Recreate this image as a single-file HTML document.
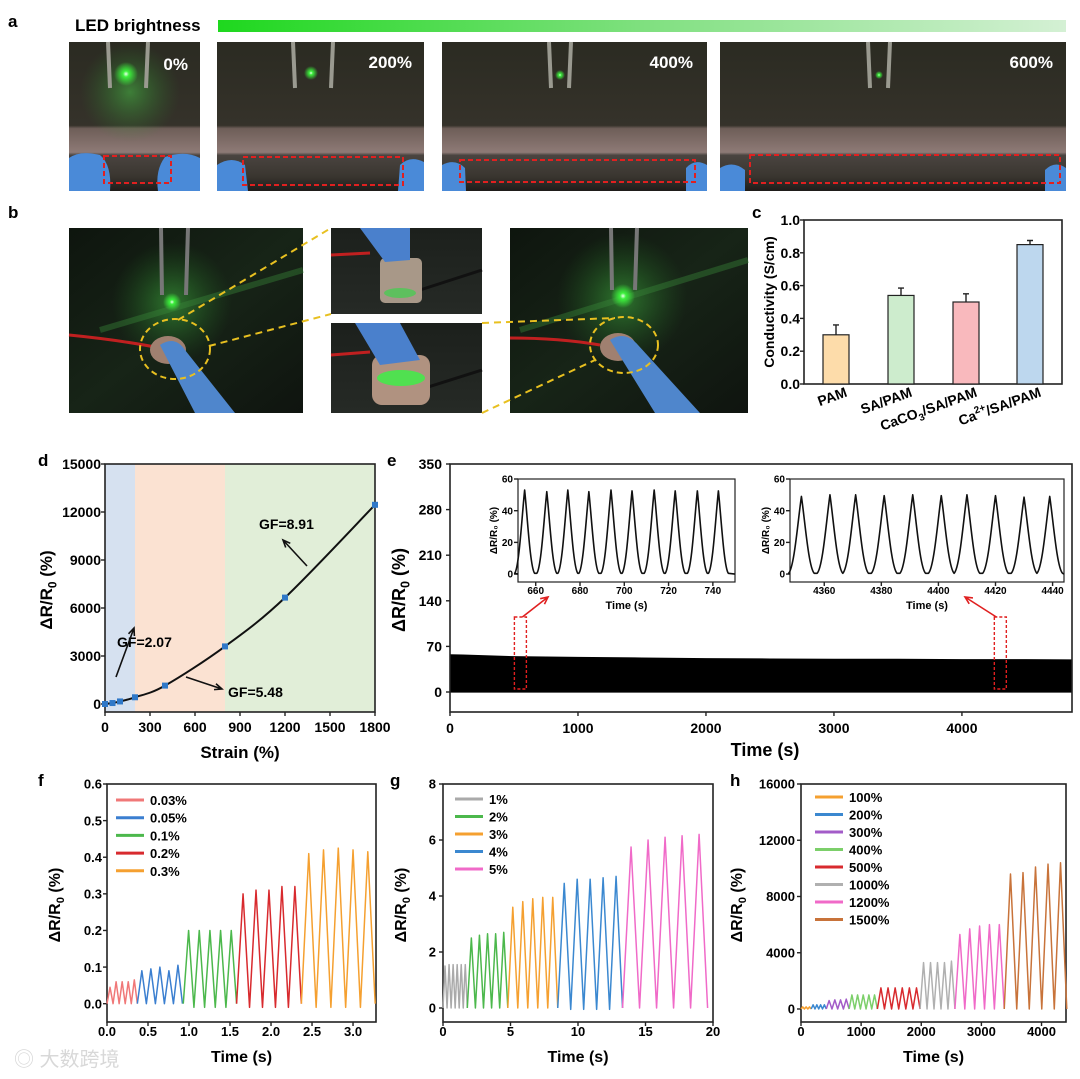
<!DOCTYPE html>
<html><head><meta charset="utf-8"><style>
html,body{margin:0;padding:0;background:#fff;}
svg{display:block;font-family:"Liberation Sans","Noto Sans CJK SC",sans-serif;}
</style></head><body>
<svg id="fig" width="1080" height="1079" viewBox="0 0 1080 1079" xmlns="http://www.w3.org/2000/svg">
<defs>
<linearGradient id="ledbar" x1="0" x2="1" y1="0" y2="0"><stop offset="0" stop-color="#1ed81e"/><stop offset="0.5" stop-color="#7fe07f"/><stop offset="1" stop-color="#d4f0d4"/></linearGradient>
<linearGradient id="darkA" x1="0" x2="0" y1="0" y2="1"><stop offset="0" stop-color="#2b2b22"/><stop offset="0.56" stop-color="#35322a"/><stop offset="0.58" stop-color="#6e5e58"/><stop offset="0.74" stop-color="#8e7a76"/><stop offset="0.76" stop-color="#4a4440"/><stop offset="0.9" stop-color="#3a3630"/><stop offset="1" stop-color="#1e1c1a"/></linearGradient>
<linearGradient id="darkB" x1="0" x2="1" y1="0" y2="1"><stop offset="0" stop-color="#0e150e"/><stop offset="0.5" stop-color="#172417"/><stop offset="1" stop-color="#0f140f"/></linearGradient>
<linearGradient id="darkC" x1="0" x2="0" y1="0" y2="1"><stop offset="0" stop-color="#1c201c"/><stop offset="1" stop-color="#262a26"/></linearGradient>
<radialGradient id="glow"><stop offset="0" stop-color="#eaffea"/><stop offset="0.25" stop-color="#3cf03c"/><stop offset="1" stop-color="#3cf03c" stop-opacity="0"/></radialGradient>
<radialGradient id="glowbig"><stop offset="0" stop-color="#4de04d" stop-opacity="0.45"/><stop offset="1" stop-color="#2a8a2a" stop-opacity="0"/></radialGradient>
</defs>

<text x="8" y="27" font-size="17" font-weight="bold">a</text>
<text x="75" y="31" font-size="17" font-weight="bold">LED brightness</text>
<rect x="218" y="20" width="848" height="12" fill="url(#ledbar)"/>

<g>
<rect x="69" y="42" width="131" height="149" fill="url(#darkA)"/>
<rect x="80" y="42" width="100" height="100" fill="url(#glowbig)"/>
<line x1="108" y1="42" x2="110" y2="88" stroke="#9a9a90" stroke-width="4"/><line x1="148" y1="42" x2="146" y2="88" stroke="#9a9a90" stroke-width="4"/>
<circle cx="126" cy="74" r="12" fill="url(#glow)"/>
<path d="M69 191 L69 158 Q80 150 100 155 Q112 165 110 191 Z" fill="#4a8ad8"/>
<path d="M200 191 L200 158 Q185 150 165 157 Q155 170 158 191 Z" fill="#4a8ad8"/>
<rect x="104" y="156" width="67" height="27" fill="none" stroke="#e02020" stroke-width="2" stroke-dasharray="5,3"/>
<text x="188" y="70" font-size="17" font-weight="bold" fill="#fff" text-anchor="end">0%</text>
</g>
<g>
<rect x="217" y="42" width="207" height="149" fill="url(#darkA)"/>
<line x1="293" y1="42" x2="295" y2="88" stroke="#9a9a90" stroke-width="4"/><line x1="333" y1="42" x2="331" y2="88" stroke="#9a9a90" stroke-width="4"/>
<circle cx="311" cy="73" r="7" fill="url(#glow)"/>
<path d="M217 191 L217 165 Q232 155 245 165 L248 191 Z" fill="#4a8ad8"/>
<path d="M424 191 L424 162 Q410 155 400 165 L398 191 Z" fill="#4a8ad8"/>
<rect x="243" y="157" width="160" height="28" fill="none" stroke="#e02020" stroke-width="2" stroke-dasharray="5,3"/>
<text x="412" y="68" font-size="17" font-weight="bold" fill="#fff" text-anchor="end">200%</text>
</g>
<g>
<rect x="442" y="42" width="265" height="149" fill="url(#darkA)"/>
<line x1="549" y1="42" x2="551" y2="88" stroke="#9a9a90" stroke-width="4"/><line x1="571" y1="42" x2="569" y2="88" stroke="#9a9a90" stroke-width="4"/>
<circle cx="560" cy="75" r="5" fill="url(#glow)"/>
<path d="M442 191 L442 165 Q455 158 465 168 L466 191 Z" fill="#4a8ad8"/>
<path d="M707 191 L707 165 Q695 158 686 168 L686 191 Z" fill="#4a8ad8"/>
<rect x="460" y="160" width="235" height="22" fill="none" stroke="#e02020" stroke-width="2" stroke-dasharray="5,3"/>
<text x="693" y="68" font-size="17" font-weight="bold" fill="#fff" text-anchor="end">400%</text>
</g>
<g>
<rect x="720" y="42" width="346" height="149" fill="url(#darkA)"/>
<line x1="868" y1="42" x2="870" y2="88" stroke="#9a9a90" stroke-width="4"/><line x1="890" y1="42" x2="888" y2="88" stroke="#9a9a90" stroke-width="4"/>
<circle cx="879" cy="75" r="4" fill="url(#glow)"/>
<path d="M720 191 L720 168 Q733 160 745 170 L745 191 Z" fill="#4a8ad8"/>
<path d="M1066 191 L1066 168 Q1055 160 1045 170 L1045 191 Z" fill="#4a8ad8"/>
<rect x="750" y="155" width="310" height="28" fill="none" stroke="#e02020" stroke-width="2" stroke-dasharray="5,3"/>
<text x="1053" y="68" font-size="17" font-weight="bold" fill="#fff" text-anchor="end">600%</text>
</g>

<text x="8" y="218" font-size="17" font-weight="bold">b</text>
<g>
<rect x="69" y="228" width="234" height="185" fill="url(#darkB)"/>
<circle cx="172" cy="302" r="60" fill="url(#glowbig)"/>
<path d="M100 330 L303 270" stroke="#3a8a3a" stroke-width="6" opacity="0.4"/>
<line x1="161" y1="228" x2="162" y2="295" stroke="#777" stroke-width="4"/><line x1="188" y1="228" x2="186" y2="295" stroke="#777" stroke-width="4"/>
<circle cx="172" cy="302" r="9" fill="url(#glow)"/>
<path d="M69 335 Q120 340 160 348" stroke="#c02020" stroke-width="3" fill="none"/>
<ellipse cx="168" cy="350" rx="18" ry="14" fill="#a08070"/>
<path d="M160 345 Q175 335 185 350 L235 413 L195 413 Z" fill="#4f86cc"/>
<ellipse cx="175" cy="349" rx="35" ry="30" fill="none" stroke="#e8c020" stroke-width="2" stroke-dasharray="6,4"/>
</g>
<g>
<rect x="331" y="228" width="151" height="86" fill="url(#darkC)"/>
<line x1="331" y1="255" x2="370" y2="253" stroke="#c02020" stroke-width="3"/>
<line x1="420" y1="290" x2="482" y2="270" stroke="#111" stroke-width="3"/>
<rect x="380" y="258" width="42" height="45" rx="5" fill="#a89888"/>
<ellipse cx="400" cy="293" rx="16" ry="5" fill="#5ec05e"/>
<path d="M360 228 L410 228 L410 260 L385 262 Z" fill="#4a80cc"/>
</g>
<g>
<rect x="331" y="323" width="151" height="90" fill="url(#darkC)"/>
<line x1="331" y1="355" x2="370" y2="352" stroke="#c02020" stroke-width="3"/>
<line x1="425" y1="388" x2="482" y2="370" stroke="#111" stroke-width="3"/>
<rect x="372" y="355" width="58" height="50" rx="10" fill="#b09280"/>
<ellipse cx="401" cy="378" rx="24" ry="8" fill="#50e050"/>
<path d="M355 323 L400 323 L420 360 L380 365 Z" fill="#4a80cc"/>
</g>
<g>
<rect x="510" y="228" width="238" height="185" fill="url(#darkB)"/>
<circle cx="622" cy="298" r="65" fill="url(#glowbig)"/>
<path d="M520 330 L748 260" stroke="#3a8a3a" stroke-width="6" opacity="0.4"/>
<line x1="611" y1="228" x2="612" y2="290" stroke="#777" stroke-width="4"/><line x1="637" y1="228" x2="635" y2="290" stroke="#777" stroke-width="4"/>
<circle cx="623" cy="296" r="12" fill="url(#glow)"/>
<path d="M510 338 Q560 338 600 345" stroke="#c02020" stroke-width="3" fill="none"/>
<ellipse cx="618" cy="347" rx="18" ry="14" fill="#a08070"/>
<path d="M610 340 Q625 330 638 345 L700 413 L655 413 Z" fill="#4f86cc"/>
<ellipse cx="624" cy="345" rx="34" ry="28" fill="none" stroke="#e8c020" stroke-width="2" stroke-dasharray="6,4"/>
</g>
<g stroke="#e8c020" stroke-width="2" stroke-dasharray="7,5">
<line x1="178" y1="320" x2="331" y2="228"/><line x1="209" y1="346" x2="331" y2="314"/>
<line x1="482" y1="323" x2="615" y2="318"/><line x1="482" y1="413" x2="595" y2="360"/>
</g>

<text x="752" y="218" font-size="17" font-weight="bold">c</text>
<text x="38" y="466" font-size="17" font-weight="bold">d</text>
<text x="387" y="466" font-size="17" font-weight="bold">e</text>
<text x="38" y="786" font-size="17" font-weight="bold">f</text>
<text x="390" y="786" font-size="17" font-weight="bold">g</text>
<text x="730" y="786" font-size="17" font-weight="bold">h</text>

<text x="14" y="1066" font-size="20" fill="#d8d8d8">◎ 大数跨境</text>
</svg>
<script>
const cCategories=['PAM','SA/PAM','CaCO3/SA/PAM','Ca2+/SA/PAM'];
const cValues=[0.30,0.54,0.50,0.85];
const cErrors=[0.06,0.045,0.05,0.025];
const cTicks=[0,0.2,0.4,0.6,0.8,1.0];
const cTickLabels=['0.0','0.2','0.4','0.6','0.8','1.0'];

const dStrain=[0,50,100,200,400,800,1200,1800];
const dResp=[0,60,160,420,1150,3600,6650,12450];
const dXTicks=[0,300,600,900,1200,1500,1800];
const dYTicks=[0,3000,6000,9000,12000,15000];
const dRegions=[0,200,800,1800];

const eEnvTime=[0,100,500,1000,1500,2000,2500,3000,3500,4000,4500,4860];
const eEnvTop=[58,57.5,55,54,53,52,51.5,51,51,50.5,50.5,50];
const eXTicks=[0,1000,2000,3000,4000];
const eYTicks=[0,70,140,210,280,350];
const in1PeakT=[655,665,674.5,684,694,703.5,713.5,723,733,742.5];
const in1PeakV=[53,52,53,52,53,52.5,53,52.5,52.5,52.5];
const in1XTicks=[660,680,700,720,740];
const in2PeakT=[4352,4362,4371,4381,4391,4401,4410,4420,4430,4439];
const in2PeakV=[49,50,50,49.5,50,49.5,50,49.5,48.5,49];
const in2XTicks=[4360,4380,4400,4420,4440];
const inYTicks=[0,20,40,60];

const fLabels=['0.03%','0.05%','0.1%','0.2%','0.3%'];
const fStart=[0,0.37,0.93,1.58,2.37];
const fEnd=[0.37,0.92,1.58,2.37,3.27];
const fPeaks=[[0.045,0.06,0.06,0.06,0.065],[0.09,0.095,0.1,0.09,0.105],[0.2,0.2,0.2,0.2,0.2],[0.3,0.31,0.31,0.32,0.32],[0.41,0.42,0.425,0.42,0.415]];
const fTrough=[0,0,-0.01,-0.01,-0.01];
const fXTicks=[0,0.5,1.0,1.5,2.0,2.5,3.0];
const fYTicks=[0,0.1,0.2,0.3,0.4,0.5,0.6];

const gLabels=['1%','2%','3%','4%','5%'];
const gStart=[0,1.8,4.8,8.5,13.3];
const gEnd=[1.8,4.8,8.5,13.3,19.6];
const gPeaks=[[1.5,1.55,1.55,1.55,1.55,1.55],[2.5,2.6,2.65,2.65,2.7],[3.6,3.8,3.9,3.95,3.95],[4.45,4.6,4.6,4.65,4.7],[5.75,6.0,6.1,6.15,6.2]];
const gTrough=[0,0,0,-0.05,0];
const gXTicks=[0,5,10,15,20];
const gYTicks=[0,2,4,6,8];

const hLabels=['100%','200%','300%','400%','500%','1000%','1200%','1500%'];
const hStart=[0,170,420,800,1270,1980,2560,3380];
const hEnd=[170,420,800,1270,1980,2560,3380,4420];
const hPeaks=[[150,150,150],[300,300,300,300],[600,650,650,700],[1000,1000,1000,1000,1000],[1500,1500,1500,1500,1500,1500],[3300,3300,3300,3300,3400],[5300,5700,5900,6000,6000],[9600,9700,10100,10300,10400]];
const hXTicks=[0,1000,2000,3000,4000];
const hYTicks=[0,4000,8000,12000,16000];

const NS='http://www.w3.org/2000/svg';
const svg=document.getElementById('fig');
function mk(tag,attrs,parent,txt){const e=document.createElementNS(NS,tag);for(const k in attrs)e.setAttribute(k,attrs[k]);if(txt!==undefined)e.textContent=txt;(parent||svg).appendChild(e);return e;}
function lin(d0,d1,r0,r1){return v=>r0+(v-d0)/(d1-d0)*(r1-r0);}
function fmt(v){return String(v);}
function axes(name,x0,x1,y0,y1,sx,sy,xt,xl,yt,yl,fs,xlabY,ylabX,sw){
  const g=mk('g',{});
  
  
  mk('rect',{x:x0,y:y0,width:x1-x0,height:y1-y0,fill:'none',stroke:'#222','stroke-width':sw||1.6},g);
  xt.forEach((v,i)=>{const x=sx(v);mk('line',{x1:x,y1:y1,x2:x,y2:y1+4,stroke:'#222','stroke-width':1.4},g);
    const t=mk('text',{x:x,y:xlabY,'font-size':fs,'font-weight':'bold','text-anchor':'middle'},g,xl[i]);
    
    });
  yt.forEach((v,i)=>{const y=sy(v);mk('line',{x1:x0-4,y1:y,x2:x0,y2:y,stroke:'#222','stroke-width':1.4},g);
    const t=mk('text',{x:ylabX,y:y+fs*0.36,'font-size':fs,'font-weight':'bold','text-anchor':'end'},g,yl[i]);
    
    });
  return g;
}
function ytitle(x,y,fs,name){
  const t=mk('text',{x:0,y:0,'font-size':fs,'font-weight':'bold','text-anchor':'middle',transform:`translate(${x},${y}) rotate(-90)`});
  
  
  mk('tspan',{},t,'ΔR/R');mk('tspan',{'font-size':fs*0.7,dy:fs*0.25},t,'0');mk('tspan',{dy:-fs*0.25},t,' (%)');
  return t;
}
function xtitle(x,y,fs,txt,name){const t=mk('text',{x:x,y:y,'font-size':fs,'font-weight':'bold','text-anchor':'middle'},svg,txt);
  
  }

(function(){
  const x0=804,x1=1062,y0=220,y1=384;
  const sy=lin(0,1,384,220);
  axes('conductivity-axes',x0,x1,y0,y1,v=>v,sy,[],[],cTicks,cTickLabels,14,0,800);
  const centers=[836,901,966,1030];
  const fills=['#fddcaa','#cdeccd','#f9b9bd','#bdd7ee'];
  cValues.forEach((v,i)=>{
    const cx=centers[i];
    const b=mk('rect',{x:cx-13,y:sy(v),width:26,height:sy(0)-sy(v),fill:fills[i],stroke:'#222','stroke-width':1.2});
    
    
    const e=mk('path',{d:`M${cx} ${sy(v)} V${sy(v+cErrors[i])} M${cx-3} ${sy(v+cErrors[i])} H${cx+3}`,stroke:'#222','stroke-width':1.4,fill:'none'});
    
    
    const t=mk('text',{x:0,y:0,'font-size':14,'font-weight':'bold','text-anchor':'end',transform:`translate(${cx+12},${396}) rotate(-20)`});
    
    
    const c=cCategories[i];
    if(c.startsWith('CaCO3')){mk('tspan',{},t,'CaCO');mk('tspan',{'font-size':10,dy:4},t,'3');mk('tspan',{dy:-4},t,'/SA/PAM');}
    else if(c.startsWith('Ca2+')){mk('tspan',{},t,'Ca');mk('tspan',{'font-size':10,dy:-6},t,'2+');mk('tspan',{dy:6},t,'/SA/PAM');}
    else t.textContent=c;
  });
  const yt=mk('text',{x:0,y:0,'font-size':14,'font-weight':'bold','text-anchor':'middle',transform:'translate(774,302) rotate(-90)'},svg,'Conductivity (S/cm)');
  
  
})();

(function(){
  const x0=105,x1=375,y0=464,y1=712;
  const sx=lin(0,1800,x0,x1), sy=lin(-500,15000,y1,y0);
  const cols=['#d6e1f0','#fbe2d2','#e1eed8'];
  for(let i=0;i<3;i++){const r=mk('rect',{x:sx(dRegions[i]),y:y0,width:sx(dRegions[i+1])-sx(dRegions[i]),height:y1-y0,fill:cols[i]});
    
    }
  axes('strain-axes',x0,x1,y0,y1,sx,sy,dXTicks,dXTicks.map(fmt),dYTicks,dYTicks.map(fmt),14,732,101);
  const P=dStrain.map((s,i)=>[sx(s),sy(dResp[i])]);
  let d=`M${P[0][0]} ${P[0][1]}`;
  for(let i=0;i<P.length-1;i++){const p0=P[Math.max(0,i-1)],p1=P[i],p2=P[i+1],p3=P[Math.min(P.length-1,i+2)];
    d+=` C${p1[0]+(p2[0]-p0[0])/6} ${p1[1]+(p2[1]-p0[1])/6} ${p2[0]-(p3[0]-p1[0])/6} ${p2[1]-(p3[1]-p1[1])/6} ${p2[0]} ${p2[1]}`;}
  const c=mk('path',{d:d,fill:'none',stroke:'#111','stroke-width':2});
  
  
  P.forEach(p=>{const m=mk('rect',{x:p[0]-3,y:p[1]-3,width:6,height:6,fill:'#2f78c8'});
    
    });
  const ann=[['GF=2.07',117,647,[116,677,134,628]],['GF=5.48',228,697,[186,677,222,689]],['GF=8.91',259,529,[307,566,283,540]]];
  ann.forEach(a=>{const t=mk('text',{x:a[1],y:a[2],'font-size':14,'font-weight':'bold'},svg,a[0]);
    
    
    const q=a[3];const ang=Math.atan2(q[3]-q[1],q[2]-q[0]);
    const ar=mk('path',{d:`M${q[0]} ${q[1]} L${q[2]} ${q[3]} M${q[2]-8*Math.cos(ang-0.4)} ${q[3]-8*Math.sin(ang-0.4)} L${q[2]} ${q[3]} L${q[2]-8*Math.cos(ang+0.4)} ${q[3]-8*Math.sin(ang+0.4)}`,stroke:'#111','stroke-width':1.6,fill:'none'});
    
    });
  ytitle(52,590,17,'y-axis-title-d');
  xtitle(240,758,17,'Strain (%)','x-axis-title-d');
})();

(function(){
  const x0=450,x1=1072,y0=464,y1=712;
  const sx=lin(0,4860,x0,x1), sy=lin(-30.7,350,y1,y0);
  let d=`M${sx(eEnvTime[0])} ${sy(-1)}`;
  eEnvTime.forEach((t,i)=>{d+=` L${sx(t)} ${sy(eEnvTop[i])}`;});
  d+=` L${sx(eEnvTime[eEnvTime.length-1])} ${sy(-1)} Z`;
  const band=mk('path',{d:d,fill:'#000'});
  
  
  function inset(name,px0,px1,tmin,tmax,peakT,peakV,xt){
    const py0=479,py1=582;
    const isx=lin(tmin,tmax,px0,px1), isy=lin(-5,60,py1,py0);
    const bg=mk('rect',{x:px0-48,y:py0-8,width:px1-px0+54,height:142,fill:'#fff'});
    
    
    axes(name+'-axes',px0,px1,py0,py1,isx,isy,xt,xt.map(fmt),inYTicks,inYTicks.map(fmt),10,594,px0-5,1.2);
    let d=`M${isx(tmin)} ${isy(0)}`;
    peakT.forEach((t,i)=>{const v=peakV[i];
      d+=` L${isx(t-4.5)} ${isy(0.5)} C${isx(t-2.5)} ${isy(4)} ${isx(t-1.2)} ${isy(v*0.7)} ${isx(t)} ${isy(v)} C${isx(t+1.2)} ${isy(v*0.7)} ${isx(t+2.5)} ${isy(4)} ${isx(t+4.5)} ${isy(0.5)}`;});
    d+=` L${isx(tmax)} ${isy(0)}`;
    const l=mk('path',{d:d,fill:'none',stroke:'#111','stroke-width':1.6,'stroke-linejoin':'round'});
    
    
    const yt=mk('text',{x:0,y:0,'font-size':10,'font-weight':'bold','text-anchor':'middle',transform:`translate(${px0-21},${(py0+py1)/2}) rotate(-90)`},svg,'ΔR/R₀ (%)');
    
    
    const xt2=mk('text',{x:(px0+px1)/2,y:609,'font-size':11,'font-weight':'bold','text-anchor':'middle'},svg,'Time (s)');
    
    
  }
  inset('inset-early',518,735,652,750,in1PeakT,in1PeakV,in1XTicks);
  inset('inset-late',790,1064,4348,4444,in2PeakT,in2PeakV,in2XTicks);
  axes('cycling-axes',x0,x1,y0,y1,sx,sy,eXTicks,eXTicks.map(fmt),eYTicks,eYTicks.map(fmt),14,733,442);
  ytitle(405,590,18,'y-axis-title-e');
  xtitle(765,756,18,'Time (s)','x-axis-title-e');
  [[550,540,548,597,1],[4300,990,965,597,0]].forEach(b=>{
    const bx=sx(b[0])-6;
    const r=mk('rect',{x:bx,y:617,width:12,height:72,fill:'none',stroke:'#e02020','stroke-width':1.4,'stroke-dasharray':'3,2'});
    
    
    const sxp=b[4]?bx+8:bx+2, syp=617;
    const ang=Math.atan2(b[3]-syp,b[2]-sxp);
    const a=mk('path',{d:`M${sxp} ${syp} L${b[2]} ${b[3]} M${b[2]-8*Math.cos(ang-0.45)} ${b[3]-8*Math.sin(ang-0.45)} L${b[2]} ${b[3]} L${b[2]-8*Math.cos(ang+0.45)} ${b[3]-8*Math.sin(ang+0.45)}`,stroke:'#e02020','stroke-width':1.6,fill:'none'});
    
    
  });
})();

function cyclePanel(name,x0,x1,y0,y1,xmin,xmax,ymin,ymax,xt,yt,labels,starts,ends,peaks,troughs,colors,legX,legY0,legDy,ylabX,yTitleX,xtl,ytl){
  const sx=lin(xmin,xmax,x0,x1), sy=lin(ymin,ymax,y1,y0);
  axes(name+'-axes',x0,x1,y0,y1,sx,sy,xt,xtl,yt,ytl,13,1036,ylabX);
  labels.forEach((lab,i)=>{
    const pk=peaks[i], per=(ends[i]-starts[i])/pk.length, tr=troughs?troughs[i]:0;
    let d=`M${sx(starts[i])} ${sy(0)}`;
    pk.forEach((p,k)=>{d+=` L${sx(starts[i]+(k+0.5)*per)} ${sy(p)} L${sx(starts[i]+(k+1)*per)} ${sy(k==pk.length-1?0:tr)}`;});
    const l=mk('path',{d:d,fill:'none',stroke:colors[i],'stroke-width':1.5,'stroke-linejoin':'round'});
    
    
    const ly=legY0+i*legDy;
    const lg=mk('g',{});
    
    
    mk('line',{x1:legX,y1:ly,x2:legX+28,y2:ly,stroke:colors[i],'stroke-width':3},lg);
    mk('text',{x:legX+34,y:ly+5,'font-size':13,'font-weight':'bold'},lg,lab);
  });
  ytitle(yTitleX,905,16,name+'-y-axis-title');
  xtitle((x0+x1)/2,1062,16,'Time (s)',name+'-x-axis-title');
}
cyclePanel('panel-f',107,376,784,1022,0,3.28,-0.05,0.6,fXTicks,fYTicks,fLabels,fStart,fEnd,fPeaks,fTrough,
  ['#f07878','#3b7fd0','#4cb84c','#d82a2e','#f5a030'],116,800,17.7,102,60,
  ['0.0','0.5','1.0','1.5','2.0','2.5','3.0'],['0.0','0.1','0.2','0.3','0.4','0.5','0.6']);
cyclePanel('panel-g',443,713,784,1022,0,20,-0.5,8,gXTicks,gYTicks,gLabels,gStart,gEnd,gPeaks,gTrough,
  ['#aaaaaa','#4cb84c','#f5a030','#3b88d0','#f06ac8'],455,799,17.5,436,406,
  gXTicks.map(fmt),gYTicks.map(fmt));
cyclePanel('panel-h',801,1066,784,1022,0,4407,-925,16000,hXTicks,hYTicks,hLabels,hStart,hEnd,hPeaks,null,
  ['#f5a030','#3b88d0','#a35cc8','#7ccf6a','#d82a2e','#b0b0b0','#f06ac8','#c8733a'],815,797,17.5,795,742,
  hXTicks.map(fmt),hYTicks.map(fmt));
</script>
</body></html>
